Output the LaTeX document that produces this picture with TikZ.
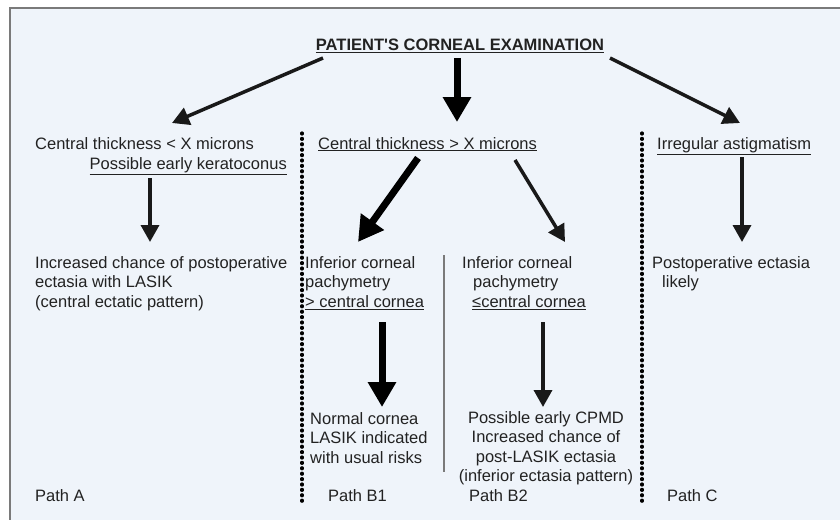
\documentclass[tikz,border=0pt]{standalone}
\usepackage{fontspec}
\setmainfont{Liberation Sans}
\usepackage{tikz}
\usetikzlibrary{arrows.meta}

\definecolor{bgblue}{HTML}{EFF4FA}
\definecolor{framegray}{HTML}{7A7A7A}
\definecolor{textgray}{HTML}{222222}

\begin{document}
\begin{tikzpicture}[
        x=1pt, y=-1pt,
        >={Triangle[length=17pt, width=18pt]},
        txt/.style={inner sep=0pt, text=textgray, font=\fontsize{16.5}{19.5}\selectfont},
        flow/.style={->, line width=3.5pt, draw=black!90},
        bigflow/.style={-{Triangle[length=25pt, width=27pt]}, line width=7pt, draw=black},
        divider/.style={line width=3.2pt, dash pattern=on 1pt off 4.4pt, line cap=round, draw=black}
    ]

    \useasboundingbox (0,0) rectangle (840,519);
    \draw [draw=framegray, line width=1.5pt, fill=bgblue] (10,8) rectangle (870,550);

    % column separators
    \draw [divider] (302,133) -- (302,503);
    \draw [divider] (642,133) -- (642,503);
    \draw [draw=framegray, line width=1.5pt] (444,255) -- (444,472);

    \node (title) [txt, anchor=base, font=\fontsize{16.5}{19.5}\selectfont\bfseries] at (460,51) {\underline{PATIENT\textquotesingle S CORNEAL EXAMINATION}};

    \node (thinA) [txt, anchor=base west] at (35,149) {Central thickness < X microns};
    \node (kerato) [txt, anchor=base east] at (287,169) {\underline{Possible early keratoconus}};
    \node (thickB) [txt, anchor=base west] at (318,149) {\underline{Central thickness > X microns}};
    \node (astig) [txt, anchor=base west] at (657,149) {\underline{Irregular astigmatism}};

    \node (resA) [txt, anchor=north west, align=left] at (35,256) {Increased chance of postoperative\\ectasia with LASIK\\(central ectatic pattern)};
    \node (infB1) [txt, anchor=north west, align=left] at (305,256) {Inferior corneal\\pachymetry\\\underline{> central cornea}};
    \node (infB2) [txt, anchor=north west, align=left] at (462,256) {Inferior corneal\\\hspace*{11pt}pachymetry\\\hspace*{10pt}\underline{≤central cornea}};
    \node (resC) [txt, anchor=north west, align=left] at (652,256) {Postoperative ectasia\\\hspace*{10pt}likely};

    \node (resB1) [txt, anchor=north west, align=left] at (310,412) {Normal cornea\\LASIK indicated\\with usual risks};
    \node (resB2) [txt, anchor=north, align=center] at (546,411) {Possible early CPMD\\Increased chance of\\post-LASIK ectasia\\(inferior ectasia pattern)};

    \node (pathA) [txt, anchor=base west] at (35,501) {Path A};
    \node (pathB1) [txt, anchor=base west] at (328,501) {Path B1};
    \node (pathB2) [txt, anchor=base west] at (469,501) {Path B2};
    \node (pathC) [txt, anchor=base west] at (667,501) {Path C};

    \draw [flow] ([shift={(-137,7)}]title.base) -- ([shift={(137,-26)}]thinA.base west);
    \draw [bigflow] ([shift={(-3,7)}]title.base) -- ([shift={(139,-27)}]thickB.base west);
    \draw [flow] ([shift={(150,7)}]title.base) -- ([shift={(83,-26)}]astig.base west);

    \draw [flow] ([shift={(-137,9)}]kerato.base east) -- ([shift={(115,-14)}]resA.north west);
    \draw [bigflow] ([shift={(100,9)}]thickB.base west) -- ([shift={(53,-14)}]infB1.north west);
    \draw [flow] ([shift={(197,11)}]thickB.base west) -- ([shift={(103,-14)}]infB2.north west);
    \draw [flow] ([shift={(85,8)}]astig.base west) -- ([shift={(90,-14)}]resC.north west);

    \draw [bigflow] ([shift={(77,66)}]infB1.north west) -- ([shift={(72,-5)}]resB1.north west);
    \draw [flow] ([shift={(81,66)}]infB2.north west) -- ([shift={(-3,-4)}]resB2.north);

\end{tikzpicture}
\end{document}
